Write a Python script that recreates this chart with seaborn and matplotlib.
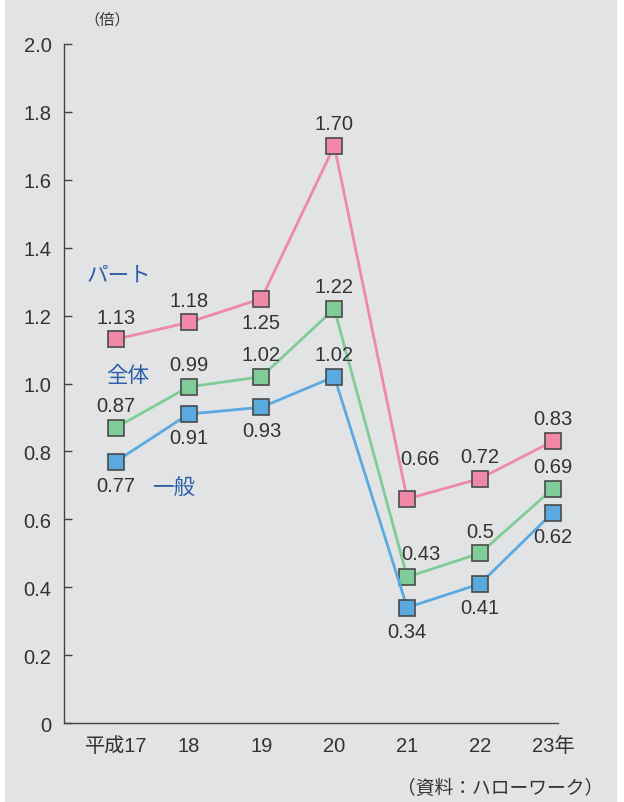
import matplotlib
matplotlib.use("Agg")
import matplotlib.pyplot as plt
import seaborn as sns
import pandas as pd
from matplotlib.patches import FancyBboxPatch

# data
years = ["平成17", "18", "19", "20", "21", "22", "23年"]
part = [1.13, 1.18, 1.25, 1.70, 0.66, 0.72, 0.83]
total = [0.87, 0.99, 1.02, 1.22, 0.43, 0.50, 0.69]
general = [0.77, 0.91, 0.93, 1.02, 0.34, 0.41, 0.62]

part_labels = ["1.13", "1.18", "1.25", "1.70", "0.66", "0.72", "0.83"]
total_labels = ["0.87", "0.99", "1.02", "1.22", "0.43", "0.5", "0.69"]
general_labels = ["0.77", "0.91", "0.93", "1.02", "0.34", "0.41", "0.62"]

sns.set_style("ticks")
plt.rcParams["font.family"] = ["Liberation Sans", "Noto Sans CJK JP", "DejaVu Sans"]

text_color = "#333333"
panel_color = "#e2e3e5"
colors = {"パート": "#f088a8", "全体": "#80cc98", "一般": "#5aaae0"}

df = pd.concat([
    pd.DataFrame({"year": years, "ratio": part, "series": "パート"}),
    pd.DataFrame({"year": years, "ratio": total, "series": "全体"}),
    pd.DataFrame({"year": years, "ratio": general, "series": "一般"}),
])
df["x"] = df.groupby("series").cumcount()

fig = plt.figure(figsize=(6.24, 8.03), dpi=100, facecolor="white")
bg = FancyBboxPatch((5 / 624, -0.02), 612 / 624, 1.05,
                    boxstyle="round,pad=0,rounding_size=0.015",
                    transform=fig.transFigure, facecolor=panel_color,
                    edgecolor="none", zorder=-10)
fig.patches.append(bg)

ax = fig.add_axes([64 / 624, 1 - 724 / 803, (558 - 64) / 624, (724 - 45) / 803])
ax.set_facecolor("none")

sns.lineplot(data=df, x="x", y="ratio", hue="series", palette=colors,
             marker="s", markersize=12, markeredgecolor="#4a4a4a",
             markeredgewidth=1.2, linewidth=2, legend=False, ax=ax)
for line in ax.lines:
    line.set_markerfacecolor(line.get_color())
    line.set_clip_on(False)

# value labels: offset in points (dx, dy)
def annotate(values, labels, offsets):
    for i, (v, lab, off) in enumerate(zip(values, labels, offsets)):
        ax.annotate(lab, (i, v), xytext=off, textcoords="offset points",
                    ha="center", va="center", fontsize=14.5, color=text_color)

up = (0, 16)
down = (0, -17)
annotate(part, part_labels, [up, up, down, up, (9, 29), up, up])
annotate(total, total_labels, [up, up, up, up, (10, 17), up, up])
annotate(general, general_labels, [down, down, down, up, down, down, down])

# series names
name_color = "#2b5fa8"
ax.text(0.04, 1.32, "パート", fontsize=15.5, color=name_color, ha="center", va="center")
ax.text(0.16, 1.025, "全体", fontsize=15.5, color=name_color, ha="center", va="center")
ax.text(0.80, 0.695, "一般", fontsize=15.5, color=name_color, ha="center", va="center")

ax.set_xlim(-0.71, 6.07)
ax.set_ylim(0, 2.0)
ax.set_yticks([0, 0.2, 0.4, 0.6, 0.8, 1.0, 1.2, 1.4, 1.6, 1.8, 2.0])
ax.set_yticklabels(["0", "0.2", "0.4", "0.6", "0.8", "1.0", "1.2", "1.4", "1.6", "1.8", "2.0"])
ax.set_xticks(range(len(years)))
ax.set_xticklabels(years)
ax.tick_params(axis="y", direction="in", length=6, width=1, color="#444444",
               labelsize=14.5, labelcolor=text_color, pad=9)
ax.tick_params(axis="x", length=0, labelsize=14.5, labelcolor=text_color, pad=9)
ax.set_xlabel("")
ax.set_ylabel("")
sns.despine(ax=ax)
for s in ["left", "bottom"]:
    ax.spines[s].set_color("#444444")
    ax.spines[s].set_linewidth(1)

fig.text(107 / 624, 1 - 20 / 803, "（倍）", fontsize=11, color=text_color,
         ha="center", va="center")
fig.text(603 / 624, 1 - 789 / 803, "（資料：ハローワーク）", fontsize=13.5,
         color=text_color, ha="right", va="center")

fig.savefig("out.png", dpi=100, facecolor="white")
